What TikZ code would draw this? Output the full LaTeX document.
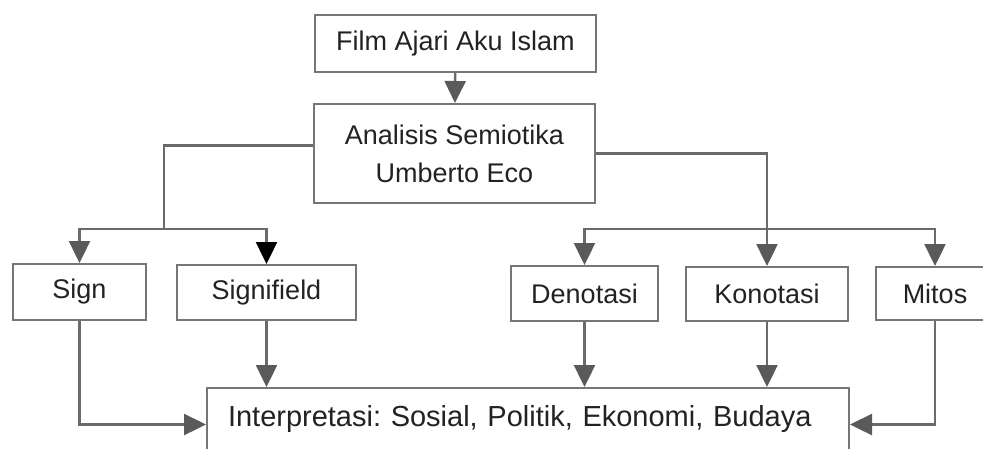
\documentclass[tikz,border=0pt]{standalone}
\usepackage{fontspec}
\setmainfont{Liberation Sans}
\usetikzlibrary{arrows.meta}
\definecolor{linegray}{HTML}{6A6A6A}
\definecolor{boxgray}{HTML}{767676}
\definecolor{headgray}{HTML}{5A5A5A}
\definecolor{textgray}{HTML}{222222}
\frenchspacing

\begin{document}
\begin{tikzpicture}[x=1pt, y=-1pt,
	box/.style={draw=boxgray, line width=2pt, inner sep=0pt, text=textgray, font=\fontsize{27}{38}\selectfont, align=center},
	link/.style={draw=linegray, line width=2.4pt, -{Triangle[length=22pt, width=21pt, color=headgray]}},
	darklink/.style={draw=linegray, line width=2.4pt, -{Triangle[length=22pt, width=21pt, color=black]}},
	plain/.style={draw=linegray, line width=2.4pt}]
		\clip (0,0) rectangle (983,448);

		\node [box, minimum width=281pt, minimum height=57pt] (Film) at (455.5,43.5) {Film Ajari Aku Islam};
		\node [box, minimum width=281pt, minimum height=99pt] (Analisis) at (454.5,153.5) {Analisis Semiotika\\Umberto Eco};
		\node [box, minimum width=133pt, minimum height=56pt] (Sign) at (79.5,292) {Sign};
		\node [box, minimum width=179pt, minimum height=55pt] (Signifield) at (266.5,292.5) {Signifield};
		\node [box, minimum width=147pt, minimum height=55pt] (Denotasi) at (584.5,293.5) {Denotasi};
		\node [box, minimum width=162pt, minimum height=54pt] (Konotasi) at (767,294) {Konotasi};
		\node [box, minimum width=118pt, minimum height=53pt] (Mitos) at (935,293.5) {Mitos};
		\node [box, anchor=north west, font=\fontsize{29}{35}\selectfont, align=left, text width=600pt, inner xsep=21pt, inner ysep=0pt, text height=38pt, text depth=35pt] (Interp) at (206,387) {Interpretasi: Sosial, Politik, Ekonomi, Budaya};

		\coordinate (lsplit) at (164,229);
		\coordinate (rsplit) at (767,229);

		\draw [link] (Film) -- (Analisis);
		\draw [plain] ([yshift=8pt]Analisis.west) -| (lsplit);
		\draw [link] (lsplit) -| (Sign);
		\draw [darklink] (lsplit) -| (Signifield);
		\draw [plain] (Analisis.east) -| (rsplit);
		\draw [link] (rsplit) -| (Denotasi);
		\draw [link] (rsplit) -- (Konotasi);
		\draw [link] (rsplit) -| (Mitos);

		\draw [link] (Sign) |- (Interp);
		\draw [link] (Signifield) -- (Signifield |- Interp.north);
		\draw [link] (Denotasi) -- (Denotasi |- Interp.north);
		\draw [link] (Konotasi) -- (Konotasi |- Interp.north);
		\draw [link] (Mitos) |- (Interp);
	\end{tikzpicture}
\end{document}
